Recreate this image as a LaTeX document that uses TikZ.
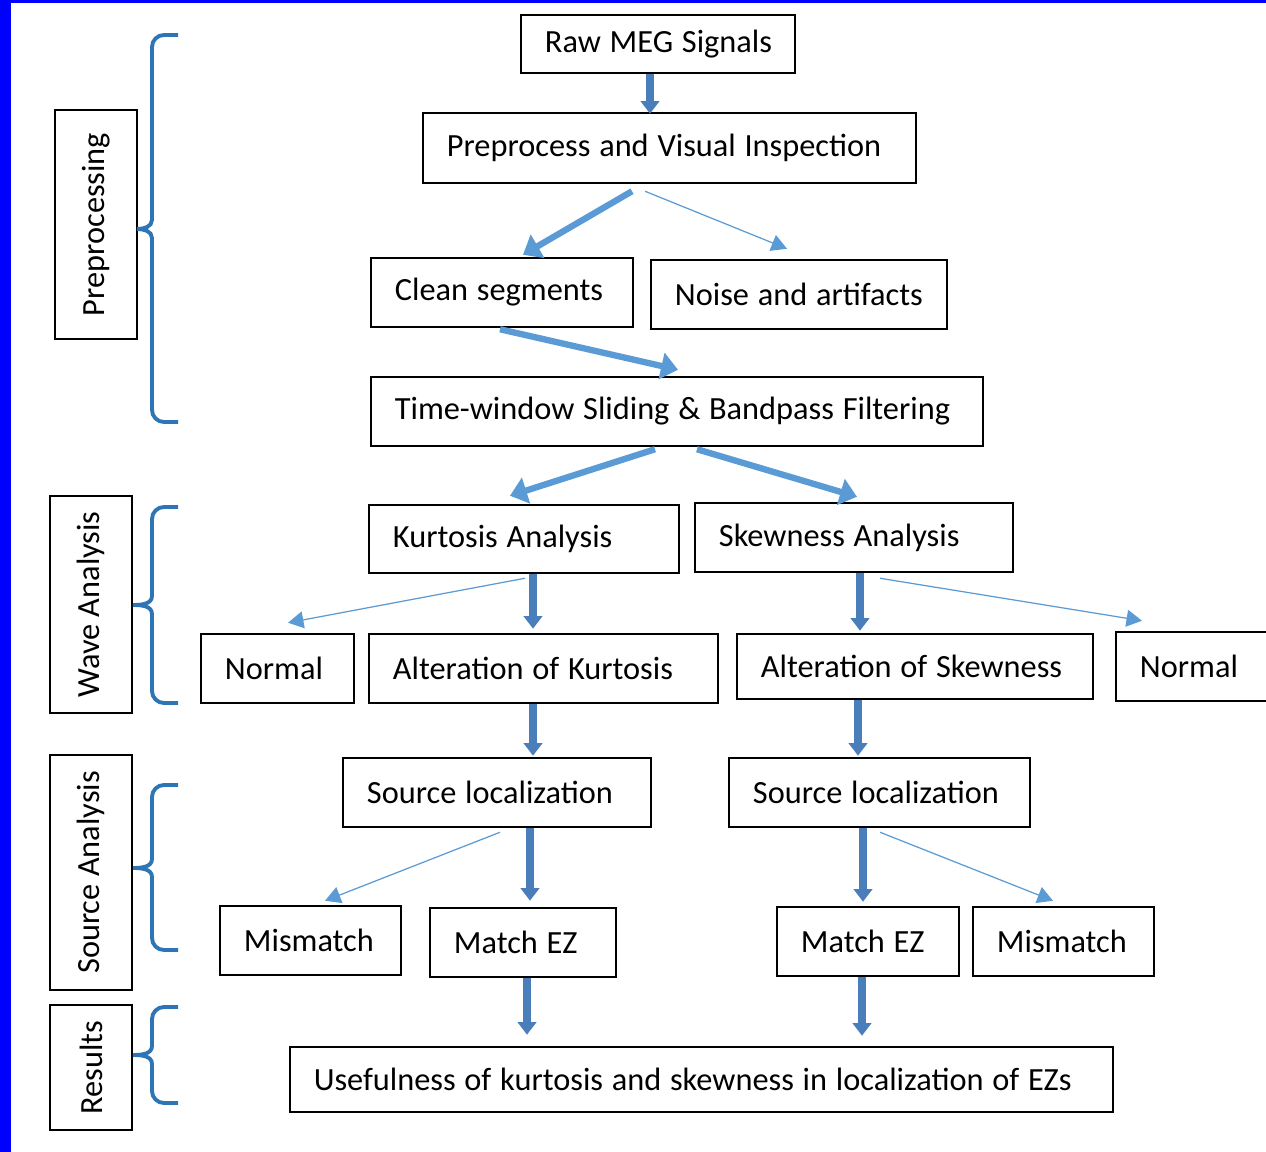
\documentclass[tikz,border=0pt]{standalone}
\usepackage{fontspec}
\setmainfont{Carlito}
\usetikzlibrary{arrows.meta}
\definecolor{edge}{HTML}{0000FF}
\definecolor{bracecol}{HTML}{2E75B6}
\definecolor{arrcol}{HTML}{5B9BD5}
\definecolor{vertcol}{HTML}{4A7EBB}
\newcommand\boxfont{\fontsize{9.2}{11}\selectfont}

\begin{document}
\begin{tikzpicture}[x=0.01cm,y=0.01cm,
  blk/.style={draw,line width=0.7pt,align=left,inner xsep=0.24cm,inner ysep=0pt,
    minimum height=0.69cm,font=\boxfont,
    execute at begin node={\hbox\bgroup\spaceskip=2.5pt\relax},execute at end node=\egroup},
  side/.style={draw,line width=0.7pt,rotate=90,inner sep=0pt,minimum height=0.82cm,
    font=\boxfont},
  fat/.style={arrcol,line width=1.8pt,-{Triangle[length=4.8pt,width=7.5pt]}},
  vert/.style={vertcol,line width=2pt,-{Triangle[length=3.6pt,width=5.2pt]}},
  slim/.style={arrcol,line width=0.35pt,-{Triangle[length=4.4pt,width=4.8pt]}},
  curly/.style={bracecol,line width=1.1pt}]

\useasboundingbox (0,0) rectangle (1266,-1152);
\fill[white] (0,0) rectangle (1266,-1152);
\fill[edge] (0,0) rectangle (11,-1152);
\fill[edge] (0,0) rectangle (1266,-3);

% main boxes
\node[blk,text width=2.26cm,minimum height=0.58cm] (raw) at (658,-44) {Raw MEG Signals};
\node[blk,text width=4.45cm,minimum height=0.70cm] (prep) at (669.5,-148) {Preprocess and Visual Inspection};
\node[blk,text width=2.14cm] (clean) at (502,-292.5) {Clean segments};
\node[blk,text width=2.48cm] (noise) at (799,-294.5) {Noise and artifacts};
\node[blk,text width=5.64cm] (twin) at (677,-411.5) {Time-window Sliding \& Bandpass Filtering};
\node[blk,text width=2.62cm,minimum height=0.68cm] (kurt) at (524,-539) {Kurtosis Analysis};
\node[blk,text width=2.70cm] (skew) at (854,-537.5) {Skewness Analysis};
\node[blk,text width=1.05cm] (normL) at (277.5,-668.5) {Normal};
\node[blk,text width=3.01cm] (altK) at (543.5,-668.5) {Alteration of Kurtosis};
\node[blk,text width=3.08cm,minimum height=0.65cm] (altS) at (915,-666.5) {Alteration of Skewness};
\node[blk,text width=1.04cm] (normR) at (1192,-666.5) {Normal};
\node[blk,text width=2.60cm] (srcL) at (497,-792.5) {Source localization};
\node[blk,text width=2.53cm] (srcR) at (879.5,-792.5) {Source localization};
\node[blk,text width=1.33cm] (misL) at (310.5,-940.5) {Mismatch};
\node[blk,text width=1.38cm] (matL) at (523,-942.5) {Match EZ};
\node[blk,text width=1.34cm] (matR) at (868,-941.5) {Match EZ};
\node[blk,text width=1.33cm] (misR) at (1063.5,-941.5) {Mismatch};
\node[blk,text width=7.75cm,minimum height=0.65cm] (use) at (701.5,-1079.5) {Usefulness of kurtosis and skewness in localization of EZs};

% stage labels
\node[side,minimum width=2.29cm] (lpre) at (96,-224.5) {Preprocessing};
\node[side,minimum width=2.17cm] (lwave) at (91,-604.5) {Wave Analysis};
\node[side,minimum width=2.35cm] (lsrc) at (91,-872.5) {Source Analysis};
\node[side,minimum width=1.25cm] (lres) at (91,-1067.5) {Results};

% braces: top, middle, bottom, tip
\foreach \t/\m/\b/\p in {35/229/422/137, 507/605/703/133, 785/868/950/133, 1007/1055/1103/133}
  \draw[curly] (178,-\t) -- (164,-\t) to[out=180,in=90] (152,-\t-12)
    -- (152,-\m+9) to[out=-90,in=0] (\p,-\m) to[out=0,in=90] (152,-\m-9)
    -- (152,-\b+12) to[out=-90,in=180] (164,-\b) -- (178,-\b);

% arrows
\draw[vert] ([shift={(-8,0)}]raw.south) -- ([shift={(-19.5,-2)}]prep.north);
\draw[fat] ([shift={(-37.5,-7)}]prep.south) -- ([shift={(21,2)}]clean.north);
\draw[slim] ([shift={(-24.5,-7)}]prep.south) -- ([shift={(-12,10)}]noise.north);
\draw[fat] ([shift={(-2,-1)}]clean.south) -- ([shift={(1,6)}]twin.north);
\draw[fat] ([shift={(-22,-2)}]twin.south) -- ([shift={(-14,8)}]kurt.north);
\draw[fat] ([shift={(20,-2)}]twin.south) -- ([shift={(3,5)}]skew.north);
\draw[slim] ([shift={(1,-4)}]kurt.south) -- ([shift={(10.5,10)}]normL.north);
\draw[vert] ([shift={(9,0)}]kurt.south) -- ([shift={(-10.5,4)}]altK.north);
\draw[vert] ([shift={(6,0)}]skew.south) -- ([shift={(-55,2)}]altS.north);
\draw[slim] ([shift={(26,-5)}]skew.south) -- ([shift={(-50,10)}]normR.north);
\draw[vert] ([shift={(-10.5,0)}]altK.south) -- ([shift={(36,1)}]srcL.north);
\draw[vert] ([shift={(-57,0)}]altS.south) -- ([shift={(-21.5,1)}]srcR.north);
\draw[slim] ([shift={(3,-4)}]srcL.south) -- ([shift={(14.5,4)}]misL.north);
\draw[vert] ([shift={(33,0)}]srcL.south) -- ([shift={(7,6)}]matL.north);
\draw[vert] ([shift={(-16.5,0)}]srcR.south) -- ([shift={(-5,4)}]matR.north);
\draw[slim] ([shift={(0.5,-4)}]srcR.south) -- ([shift={(-10.5,5)}]misR.north);
\draw[vert] ([shift={(4,0)}]matL.south) -- ([shift={(-174.5,11)}]use.north);
\draw[vert] ([shift={(-6,0)}]matR.south) -- ([shift={(160.5,10)}]use.north);
\end{tikzpicture}
\end{document}
